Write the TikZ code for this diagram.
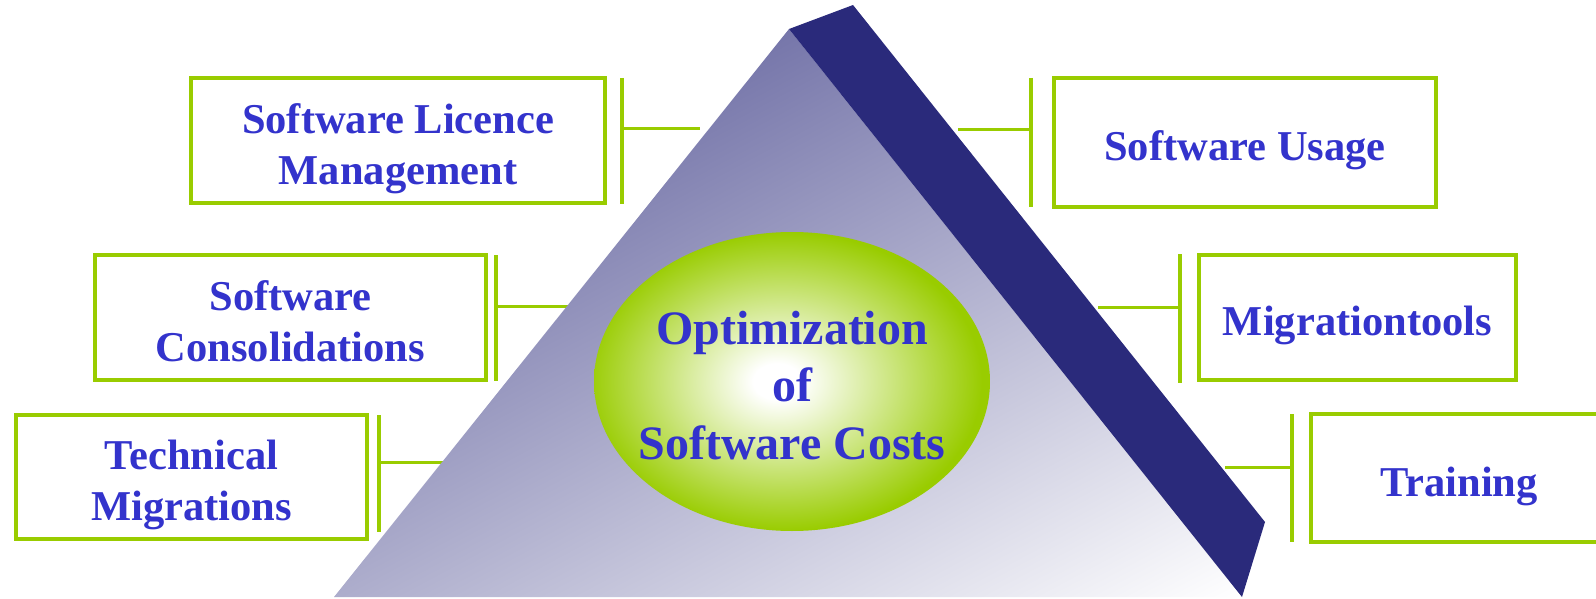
\documentclass[tikz,border=0pt]{standalone}
\usepackage{fontspec}
\setmainfont{Liberation Serif}
\usetikzlibrary{shapes.geometric}
\definecolor{boxgreen}{RGB}{153,204,0}
\definecolor{txtblue}{RGB}{51,51,204}
\definecolor{bandblue}{RGB}{42,42,123}
\definecolor{tridark}{RGB}{118,118,170}
\pgfdeclareradialshading{coreshade}{\pgfpoint{-2bp}{0bp}}{color(0bp)=(white); color(3bp)=(white); color(25bp)=(boxgreen); color(50bp)=(boxgreen)}
\newcommand{\mytopst}{\rule{0pt}{23.1pt}}
\newcommand{\mybotst}{\rule[-4.6pt]{0pt}{4.6pt}}
\tikzset{
  infobox/.style={draw=boxgreen, line width=1.9pt, fill=white, inner sep=0pt,
    align=center, text=txtblue, font=\fontsize{21.25pt}{25.5pt}\selectfont\bfseries},
  bracketline/.style={draw=boxgreen, line width=1.65pt},
  linkline/.style={draw=boxgreen, line width=1.5pt},
  coretext/.style={align=center, text=txtblue, inner sep=0pt,
    font=\fontsize{24pt}{28.75pt}\selectfont\bfseries}
}
\begin{document}
\begin{tikzpicture}[x=0.5pt, y=-0.5pt]
\useasboundingbox (0,0) rectangle (1596,599);
\clip (0,0) rectangle (1596,599);
\fill[white] (0,0) rectangle (1596,599);

% main geometry
\coordinate (apex) at (789,29);
\coordinate (bl) at (334,597);
\coordinate (br) at (1242,597);
\coordinate (bandtop) at (853,5);
\coordinate (bandright) at (1265,522);

% brackets and connectors (left)
\coordinate (b1t) at (622,78);   \coordinate (b1b) at (622,204);
\coordinate (b1m) at (622,129);  \coordinate (e1) at (700,129);
\coordinate (b2t) at (496,255);  \coordinate (b2b) at (496,381);
\coordinate (b2m) at (496,306);  \coordinate (e2) at (570,306);
\coordinate (b3t) at (379,415);  \coordinate (b3b) at (379,532);
\coordinate (b3m) at (379,462);  \coordinate (e3) at (446,462);
% brackets and connectors (right)
\coordinate (b4t) at (1031,78);  \coordinate (b4b) at (1031,207);
\coordinate (b4m) at (1031,130); \coordinate (e4) at (958,130);
\coordinate (b5t) at (1180,254); \coordinate (b5b) at (1180,383);
\coordinate (b5m) at (1180,307); \coordinate (e5) at (1098,307);
\coordinate (b6t) at (1292,414); \coordinate (b6b) at (1292,542);
\coordinate (b6m) at (1292,467); \coordinate (e6) at (1225,467);

\foreach \i in {1,...,6}{
  \draw[bracketline] (b\i t) -- (b\i b);
  \draw[linkline] (b\i m) -- (e\i);
}

% triangle with linear gradient
\begin{scope}
  \clip (apex) -- (bl) -- (br) -- cycle;
  \begin{scope}[transform canvas={shift={(apex)}, rotate=-61.8}]
    \shade[left color=tridark, right color=white] (0,-1500) rectangle (714,1500);
  \end{scope}
\end{scope}

% dark band
\fill[bandblue] (apex) -- (bandtop) -- (bandright) -- (br) -- cycle;

% central ellipse
\node[ellipse, minimum width=198pt, minimum height=149.5pt, inner sep=0pt,
      shade, shading=coreshade] (coreshape) at (792,381.5) {};
\node[coretext] (core) at (792,385.5) {Optimization\\of\\Software Costs};

% boxes
\node[infobox, minimum width=207.1pt, minimum height=62.6pt] (licence) at (398,140.5)
  {\mytopst Software Licence\\Management\mybotst};
\node[infobox, minimum width=195.6pt, minimum height=62.6pt] (consol) at (290.5,317.5)
  {\mytopst Software\\Consolidations\mybotst};
\node[infobox, minimum width=175.6pt, minimum height=62.1pt] (techmig) at (191.5,477)
  {\mytopst Technical\\Migrations\mybotst};
\node[infobox, minimum width=191.1pt, minimum height=64.6pt] (usage) at (1245,142.5)
  {\mytopst Software Usage\mybotst};
\node[infobox, minimum width=158.6pt, minimum height=62.6pt] (migtools) at (1357.5,317.5)
  {\mytopst Migrationtools\mybotst};
\node[infobox, minimum width=148.1pt, minimum height=64.1pt] (training) at (1459,478)
  {\mytopst Training\mybotst};
\end{tikzpicture}
\end{document}
